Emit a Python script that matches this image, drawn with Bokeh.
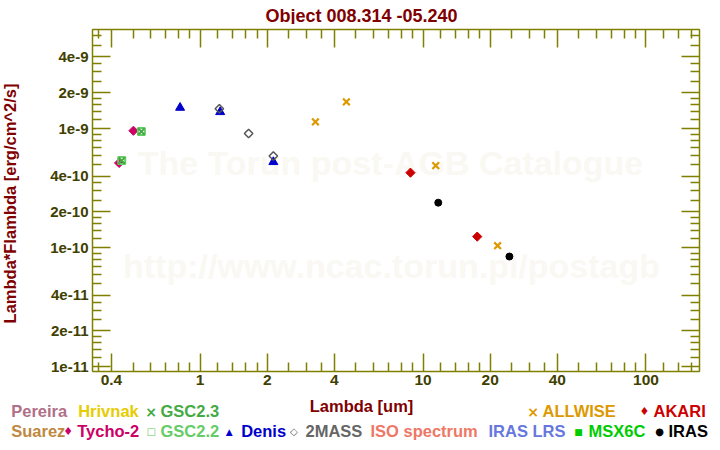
import numpy as np
from bokeh.plotting import figure
from bokeh.models import LogAxis, FixedTicker, Label, Range1d
from bokeh.layouts import column, row
from bokeh.embed import file_html
from bokeh.resources import INLINE

# ---------------- data ----------------
title_text = "Object 008.314 -05.240"
x_title = "Lambda [um]"
y_title = "Lambda*Flambda [erg/cm^2/s]"

tycho_lam = [0.433, 0.502]
tycho_f = [5.15e-10, 9.6e-10]

gsc23_lam = [0.445, 0.545]
gsc23_f = [5.4e-10, 9.45e-10]

gsc22_lam = [0.445, 0.545]
gsc22_f = [5.4e-10, 9.45e-10]

denis_lam = [0.813, 1.23, 2.13]
denis_f = [1.50e-9, 1.38e-9, 5.25e-10]

mass2_lam = [1.22, 1.65, 2.13]
mass2_f = [1.47e-9, 9.1e-10, 5.9e-10]

allwise_lam = [3.29, 4.53, 11.4, 21.6]
allwise_f = [1.14e-9, 1.68e-9, 4.9e-10, 1.04e-10]

akari_lam = [8.78, 17.5]
akari_f = [4.27e-10, 1.24e-10]

iras_lam = [11.7, 24.4]
iras_f = [2.39e-10, 8.44e-11]

x_major = [0.4, 1, 2, 4, 10, 20, 40, 100]
x_labels = ["0.4", "1", "2", "4", "10", "20", "40", "100"]
x_minor = [0.35, 0.5, 0.6, 0.7, 0.8, 0.9, 1.2, 1.4, 1.6, 1.8, 2.5, 3, 3.5,
           5, 6, 7, 8, 9, 12, 14, 16, 18, 25, 30, 35, 50, 60, 70, 80, 90,
           120, 140, 160]

y_major = [1e-11, 2e-11, 4e-11, 1e-10, 2e-10, 4e-10, 1e-9, 2e-9, 4e-9]
y_labels = ["1e-11", "2e-11", "4e-11", "1e-10", "2e-10", "4e-10", "1e-9", "2e-9", "4e-9"]
y_mult = [1.2, 1.4, 1.6, 1.8, 2.5, 3, 3.5, 5, 6, 7, 8, 9]
y_minor = [m * d for d in [1e-12, 1e-11, 1e-10, 1e-9] for m in y_mult]

legend_row1 = [("Pereira", "#b07088", None), ("Hrivnak", "#e6cc00", None),
               ("GSC2.3", "#44aa44", "\u00d7"), ("ALLWISE", "#dd9900", "\u00d7"),
               ("AKARI", "#cc0000", "\u2666")]
legend_row2 = [("Suarez", "#c08840", None), ("Tycho-2", "#cc0066", "\u2666"),
               ("GSC2.2", "#66cc66", "\u25a1"), ("Denis", "#0000cc", "\u25b2"),
               ("2MASS", "#666666", "\u25c7"), ("ISO spectrum", "#ee7766", None),
               ("IRAS LRS", "#6677dd", None), ("MSX6C", "#00cc00", "\u25a0"),
               ("IRAS", "#000000", "\u25cf")]

# ---------------- layout geometry (canvas pixels) ----------------
W, HT = 720, 450
FL, FR, FT, FB = 92, 699, 29, 371   # plot frame in canvas pixels
TOP_H = 24                          # title strip height
LEFT_W = 22                         # y-title strip width
MAIN_H = 394 - TOP_H                # main figure height
LEG_H = HT - 394                    # legend strip height
AX = "#808000"
TICKLBL = "#404000"
DARKRED = "#800000"
FONT = "Liberation Sans"


def strip(width, height, x0, x1, y_bottom, y_top):
    f = figure(width=width, height=height, x_range=Range1d(x0, x1),
               y_range=Range1d(y_bottom, y_top), output_backend="svg",
               toolbar_location=None, x_axis_location=None, y_axis_location=None,
               min_border_left=0, min_border_right=0, min_border_top=0,
               min_border_bottom=0, background_fill_color="white",
               border_fill_color="white", title=None)
    f.frame_align = False
    f.grid.visible = False
    f.outline_line_color = None
    return f


def lab(fig, text, x, y, color, size="16.5px", align="left", font=FONT, angle=0.0):
    fig.add_layout(Label(x=x, y=y, text=text, text_color=color, text_font_size=size,
                         text_font=font, text_font_style="bold", text_align=align,
                         text_baseline="middle", angle=angle))


# ---- title strip ----
tfig = strip(W, TOP_H, 0, W, TOP_H, 0)
lab(tfig, title_text, 361, 15, DARKRED, size="18px", align="center")

# ---- y-title strip ----
yfig = strip(LEFT_W, MAIN_H, 0, LEFT_W, 394, TOP_H)
lab(yfig, y_title, 9.5, 203, DARKRED, align="center", angle=np.pi / 2)

# ---- main plot ----
p = figure(width=W - LEFT_W, height=MAIN_H, x_axis_type="log", y_axis_type="log",
           x_range=Range1d(0.329, 173.8), y_range=Range1d(9.14e-12, 6.8e-9),
           output_backend="svg", toolbar_location=None,
           min_border_left=FL - LEFT_W, min_border_right=W - FR,
           min_border_top=FT - TOP_H, min_border_bottom=394 - FB,
           background_fill_color="white", border_fill_color="white")
p.frame_align = False
p.grid.visible = False
p.outline_line_color = AX


def style_axis(ax, ticks, minor, labels, show_labels, size):
    ax.ticker = FixedTicker(ticks=ticks, minor_ticks=minor)
    ax.axis_line_color = AX
    ax.axis_line_width = 1.5
    ax.major_tick_line_color = AX
    ax.minor_tick_line_color = AX
    ax.major_tick_line_width = 1.5
    ax.minor_tick_line_width = 1.5
    ax.major_tick_in = 18
    ax.major_tick_out = 0
    ax.minor_tick_in = 9
    ax.minor_tick_out = 0
    ax.major_label_text_font = FONT
    ax.major_label_text_font_style = "bold"
    ax.major_label_text_color = TICKLBL
    if show_labels:
        ax.major_label_overrides = {t: l for t, l in zip(ticks, labels)}
        ax.major_label_text_font_size = size
    else:
        ax.major_label_overrides = {t: "" for t in ticks}
        ax.major_label_text_font_size = "0px"
        ax.major_label_standoff = 0


style_axis(p.xaxis[0], x_major, x_minor, x_labels, True, "15.5px")
p.xaxis[0].major_label_standoff = 3
style_axis(p.yaxis[0], y_major, y_minor, y_labels, True, "15px")
p.yaxis[0].major_label_standoff = 4

top_ax = LogAxis()
style_axis(top_ax, x_major, x_minor, x_labels, False, "0px")
p.add_layout(top_ax, "above")
right_ax = LogAxis()
style_axis(right_ax, y_major, y_minor, y_labels, False, "0px")
p.add_layout(right_ax, "right")


def wm(text, cx, cy):
    p.add_layout(Label(x=cx - FL, y=FB - cy, x_units="screen", y_units="screen",
                       text=text, text_color="#faf8f3", text_font_size="34px",
                       text_font=FONT, text_font_style="bold", text_align="center",
                       text_baseline="middle", level="underlay"))


wm("The Torun post-AGB Catalogue", 390, 162)
wm("http://www.ncac.torun.pl/postagb", 391, 265)

p.scatter(tycho_lam, tycho_f, marker="square", angle=np.pi / 4, size=6.5,
          fill_color="#cc0066", line_color="#cc0066", line_width=1)
p.scatter(gsc22_lam, gsc22_f, marker="square", size=7, fill_color=None,
          line_color="#66cc66", line_width=2)
p.scatter(gsc23_lam, gsc23_f, marker="x", size=9, line_color="#44aa44", line_width=2)
p.scatter(denis_lam, denis_f, marker="triangle", size=9,
          fill_color="#0000cc", line_color="#0000cc")
p.scatter(mass2_lam, mass2_f, marker="square", angle=np.pi / 4, size=6,
          fill_color=None, line_color="#555555", line_width=1.5)
p.scatter(allwise_lam, allwise_f, marker="x", size=9.5, line_color="#dd9900", line_width=2.2)
p.scatter(akari_lam, akari_f, marker="square", angle=np.pi / 4, size=6.5,
          fill_color="#cc0000", line_color="#cc0000", line_width=1)
p.scatter(iras_lam, iras_f, marker="circle", size=7, fill_color="black", line_color="black")

# ---- legend strip ----
leg = strip(W, LEG_H, 0, W, HT, 394)
lab(leg, x_title, 361, 405, DARKRED, align="center")

row1_x = [10.7, 77.7, 160, 542, 653]
row2_x = [10.7, 76.7, 160, 240.7, 305, 370, 488, 588, 668]
sym_dx = {"\u00d7": -9.5, "\u2666": -9, "\u25a1": -9.3, "\u25b2": -12,
          "\u25c7": -11.7, "\u25a0": -10, "\u25cf": -9}
sym_size = {"\u00d7": "14px", "\u2666": "11px", "\u25a1": "10px", "\u25b2": "9px",
            "\u25c7": "10px", "\u25a0": "9px", "\u25cf": "10px"}

for (name, col, sym), x in zip(legend_row1, row1_x):
    lab(leg, name, x, 410, col)
    if sym:
        lab(leg, sym, x + sym_dx[sym], 411, col, size=sym_size[sym], align="center",
            font="DejaVu Sans")
for (name, col, sym), x in zip(legend_row2, row2_x):
    lab(leg, name, x, 430, col)
    if sym:
        lab(leg, sym, x + sym_dx[sym], 431, col, size=sym_size[sym], align="center",
            font="DejaVu Sans")

layout = column(tfig, row(yfig, p, spacing=0), leg, spacing=0)
open("out.html", "w").write(file_html(layout, INLINE))
